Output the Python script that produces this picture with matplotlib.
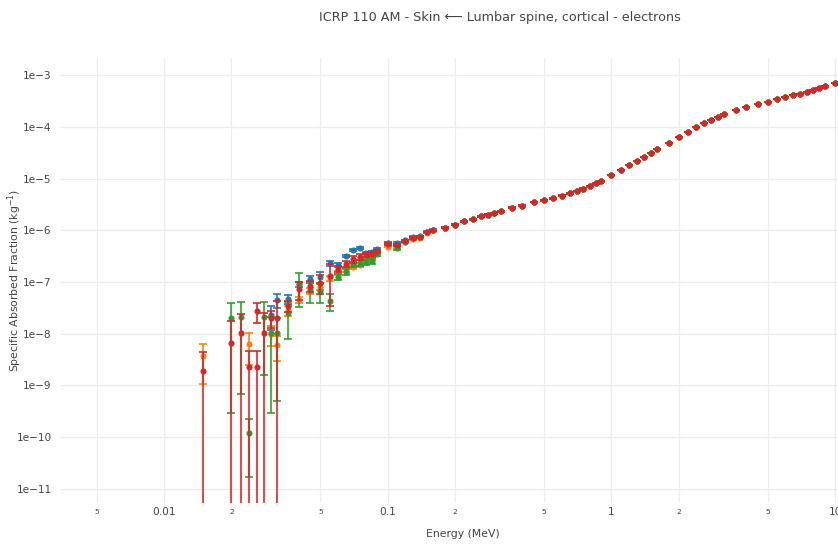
import numpy as np
import matplotlib
matplotlib.use("Agg")
import matplotlib.pyplot as plt

plt.rcParams.update({
    "font.family": ["DejaVu Sans"],
    "mathtext.fontset": "dejavusans",
})

nan = np.nan

# ── Data ──────────────────────────────────────────────────
# low energies: the four traces disagree, missing points are zero SAFs
energy_lo = [0.015, 0.02, 0.022, 0.024, 0.026, 0.028, 0.03, 0.032, 0.036, 0.04,
             0.045, 0.05, 0.055, 0.06, 0.065, 0.07, 0.075, 0.08, 0.085, 0.09,
             0.1, 0.11, 0.12, 0.13, 0.14, 0.15, 0.16]

blue_lo = [nan, nan, nan, nan, nan, nan, 2.30e-8, 4.49e-8, 4.69e-8, 9.0e-8,
           1.14e-7, 1.25e-7, 2.30e-7, 2.13e-7, 3.18e-7, 4.15e-7, 4.54e-7, 3.63e-7, 3.80e-7, 4.35e-7,
           5.67e-7, 5.67e-7, 6.35e-7, 7.57e-7, 7.7e-7, 9.4e-7, 1.03e-6]
blue_err_lo = [nan, nan, nan, nan, nan, nan, 1.14e-8, 1.29e-8, 9.2e-9, 1.0e-8,
               1.8e-8, 2.8e-8, 2.5e-8, 1.5e-8, 2.0e-8, 2.5e-8, 2.5e-8, 2.0e-8, 2.0e-8, 2.0e-8,
               2.0e-8, 2.0e-8, 2.0e-8, 2.0e-8, 2.0e-8, 2.5e-8, 2.5e-8]

orange_lo = [3.77e-9, nan, nan, 6.34e-9, nan, nan, 9.89e-9, 6.07e-9, 2.84e-8, 4.49e-8,
             6.70e-8, 8.0e-8, 1.18e-7, 1.49e-7, 1.71e-7, 1.95e-7, 2.13e-7, 2.55e-7, 2.78e-7, 3.63e-7,
             4.85e-7, 4.74e-7, 5.93e-7, 6.8e-7, 7.2e-7, 9.0e-7, 9.9e-7]
orange_err_lo = [2.7e-9, nan, nan, 3.9e-9, nan, nan, 4.0e-9, 3.1e-9, 6.0e-9, 6.0e-9,
                 8.0e-9, 1.0e-8, 1.5e-8, 1.5e-8, 1.5e-8, 1.5e-8, 1.5e-8, 1.5e-8, 1.5e-8, 1.5e-8,
                 1.5e-8, 1.5e-8, 1.5e-8, 2.0e-8, 2.0e-8, 2.0e-8, 2.0e-8]

green_lo = [nan, 1.99e-8, 2.08e-8, 1.21e-10, nan, 2.11e-8, 1.05e-8, 1.05e-8, 2.48e-8, 8.97e-8,
            7.0e-8, 6.70e-8, 4.30e-8, 1.25e-7, 1.56e-7, 2.23e-7, 2.33e-7, 2.43e-7, 2.55e-7, 3.48e-7,
            5.67e-7, 4.54e-7, 6.0e-7, 7.08e-7, 7.3e-7, 9.1e-7, 1.0e-6]
green_err_lo = [nan, 1.96e-8, 2.01e-8, 1.04e-10, nan, 1.95e-8, 1.02e-8, 1.0e-8, 1.69e-8, 5.7e-8,
                3.0e-8, 2.8e-8, 1.55e-8, 1.5e-8, 2.0e-8, 2.5e-8, 3.0e-8, 3.0e-8, 3.5e-8, 2.5e-8,
                3.5e-8, 4.0e-8, 2.0e-8, 2.0e-8, 2.0e-8, 2.0e-8, 2.0e-8]

red_lo = [1.91e-9, 6.62e-9, 1.02e-8, 2.28e-9, 2.31e-9, 1.02e-8, 2.01e-8, 2.06e-8, 3.44e-8, 7.33e-8,
          8.37e-8, 9.57e-8, 1.31e-7, 1.82e-7, 2.23e-7, 2.78e-7, 3.04e-7, 3.33e-7, 3.48e-7, 3.97e-7,
          5.35e-7, 5.19e-7, 6.19e-7, 7.08e-7, 7.50e-7, 9.25e-7, 1.01e-6]
red_err_lo = [2.59e-9, 1.13e-8, 1.42e-8, 2.36e-9, 2.33e-9, 1.46e-8, 7.4e-9, 2.3e-8, 8.6e-9, 2.8e-8,
              2.1e-8, 3.8e-8, 9.6e-8, 2.5e-8, 3.0e-8, 4.0e-8, 4.0e-8, 3.0e-8, 3.0e-8, 2.5e-8,
              2.0e-8, 2.0e-8, 2.0e-8, 2.0e-8, 2.0e-8, 2.0e-8, 2.0e-8]

# second red point sitting at 26 keV
red_extra_e = [0.026]
red_extra_v = [2.75e-8]
red_extra_err = [1.16e-8]

# high energies: all four traces coincide
energy_hi = [0.18, 0.2, 0.22, 0.24, 0.26, 0.28, 0.3, 0.32, 0.36, 0.4,
             0.45, 0.5, 0.55, 0.6, 0.65, 0.7, 0.75, 0.8, 0.85, 0.9,
             1.0, 1.1, 1.2, 1.3, 1.4, 1.5, 1.6, 1.8, 2.0, 2.2,
             2.4, 2.6, 2.8, 3.0, 3.2, 3.6, 4.0, 4.5, 5.0, 5.5,
             6.0, 6.5, 7.0, 7.5, 8.0, 8.5, 9.0, 10.0]
saf_hi = [1.12e-6, 1.28e-6, 1.49e-6, 1.63e-6, 1.86e-6, 2.00e-6, 2.15e-6, 2.32e-6, 2.73e-6, 2.98e-6,
          3.52e-6, 3.79e-6, 4.14e-6, 4.66e-6, 5.18e-6, 5.73e-6, 6.35e-6, 7.16e-6, 8.07e-6, 8.95e-6,
          1.17e-5, 1.48e-5, 1.82e-5, 2.21e-5, 2.64e-5, 3.11e-5, 3.66e-5, 4.79e-5, 6.25e-5, 8.02e-5,
          9.89e-5, 1.20e-4, 1.37e-4, 1.56e-4, 1.74e-4, 2.08e-4, 2.38e-4, 2.75e-4, 3.05e-4, 3.39e-4,
          3.71e-4, 4.06e-4, 4.36e-4, 4.75e-4, 5.13e-4, 5.61e-4, 6.05e-4, 6.92e-4]
rel_err_hi = [0.03, 0.03, 0.03, 0.03, 0.025, 0.025, 0.02, 0.02, 0.015, 0.015,
              0.01, 0.01, 0.01, 0.01, 0.01, 0.01, 0.01, 0.01, 0.01, 0.01,
              0.005, 0.005, 0.005, 0.005, 0.005, 0.005, 0.005, 0.005, 0.005, 0.005,
              0.005, 0.005, 0.005, 0.005, 0.005, 0.005, 0.005, 0.005, 0.005, 0.005,
              0.005, 0.005, 0.005, 0.005, 0.005, 0.005, 0.005, 0.005]

series = [
    ("#1f77b4", blue_lo, blue_err_lo),
    ("#ff7f0e", orange_lo, orange_err_lo),
    ("#2ca02c", green_lo, green_err_lo),
    ("#d62728", red_lo, red_err_lo),
]

x_major = [0.01, 0.1, 1, 10]
x_major_labels = ["0.01", "0.1", "1", "10"]
x_minor = [0.005, 0.02, 0.05, 0.2, 0.5, 2, 5]
x_minor_labels = ["5", "2", "5", "2", "5", "2", "5"]
y_exps = [-3, -4, -5, -6, -7, -8, -9, -10, -11]

# ── Figure ────────────────────────────────────────────────
W, H = 838, 547
fig = plt.figure(figsize=(W / 100, H / 100), dpi=100)
ax = fig.add_axes([60 / W, 1 - 503 / H, 806 / W, 445 / H])
ax.set_xscale("log", nonpositive="clip")
ax.set_yscale("log", nonpositive="clip")

e_hi = np.array(energy_hi)
v_hi = np.array(saf_hi)
err_hi = v_hi * np.array(rel_err_hi)


def draw(e, v, err, color, z):
    line, caps, bars = ax.errorbar(e, v, yerr=err, fmt="o", color=color, ms=4.4,
                                   ecolor=color, elinewidth=1.5, capsize=3.0,
                                   capthick=1.4, zorder=z)
    line.set_markeredgewidth(0)
    for c in caps:
        c.set_alpha(0.85)
    for b in bars:
        b.set_alpha(0.82)


for i, (color, vals, errs) in enumerate(series):
    e = np.concatenate([energy_lo, e_hi])
    v = np.concatenate([vals, v_hi])
    err = np.concatenate([errs, err_hi])
    ok = ~np.isnan(v)
    draw(e[ok], v[ok], err[ok], color, 3 + i)

draw(np.array(red_extra_e), np.array(red_extra_v), np.array(red_extra_err), "#d62728", 6)

ax.set_xlim(10 ** -2.4649, 10 ** 1.1381)
ax.set_ylim(10 ** -11.271, 10 ** -2.671)

ax.set_xticks(x_major, x_major_labels)
ax.set_xticks(x_minor, x_minor_labels, minor=True)
ax.set_yticks([10.0 ** k for k in y_exps], ["1e\u2212%d" % -k for k in y_exps])
ax.yaxis.set_minor_locator(matplotlib.ticker.NullLocator())

ax.tick_params(axis="both", which="both", length=0, colors="#444444")
ax.tick_params(axis="x", which="major", labelsize=7.6, pad=3)
ax.tick_params(axis="x", which="minor", labelsize=5.4, pad=4)
ax.tick_params(axis="y", labelsize=7.6, pad=6)

ax.grid(True, which="both", color="#ececec", linewidth=0.9)
ax.set_axisbelow(True)
for s in ax.spines.values():
    s.set_visible(False)

ax.set_xlabel("Energy (MeV)", fontsize=7.8, color="#444444")
ax.xaxis.set_label_coords(0.5, -(529 - 503) / 445)
ax.set_ylabel("Specific Absorbed Fraction (kg$^{\\mathregular{-1}}$)", fontsize=7.8, color="#444444")
ax.yaxis.set_label_coords(-(60 - 24) / 806, 0.5)

fig.text(500 / W, 1 - 18 / H, "ICRP 110 AM - Skin \u27f5 Lumbar spine, cortical - electrons",
         ha="center", va="center", fontsize=9.2, color="#444444")

fig.savefig("out.png", dpi=100)
